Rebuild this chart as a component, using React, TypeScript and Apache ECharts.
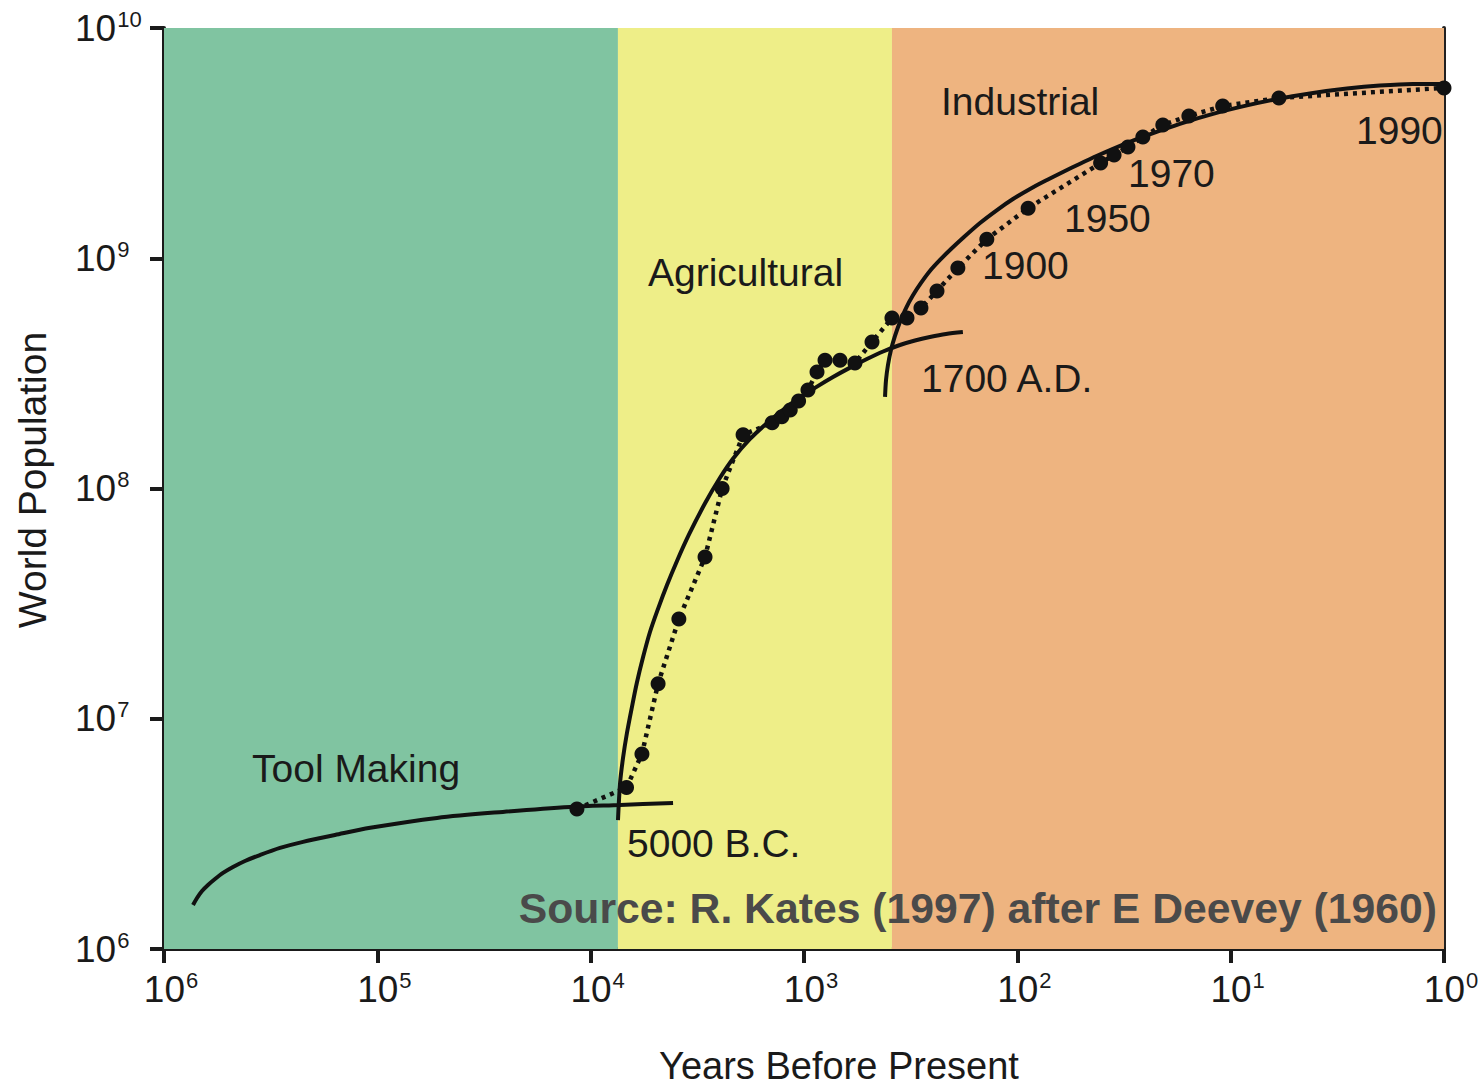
import { useEffect, useRef } from "react";
import * as echarts from "echarts";

const FONT = '"Liberation Sans", Arial, Helvetica, sans-serif';
const INK = "#1a1a1a";

// Era bands (years before present)
const eraBounds = [1e6, 7450, 387, 1];
const eraColors = ["#80C4A1", "#EEEE88", "#EEB480"];
const eraNames = ["Tool Making", "Agricultural", "Industrial"];

// Observed estimates (dotted line with dots)
const obsYears = [11600, 6790, 5750, 4830, 3860, 2910, 2420, 1930, 1410, 1270, 1160, 1060, 958, 869, 797, 678, 577, 480, 387, 329, 283, 238, 190, 139, 89, 40.7, 35.2, 30.3, 25.8, 20.8, 15.7, 10.9, 5.94, 1];
const obsPop = [4.06e6, 5.03e6, 7.03e6, 1.42e7, 2.71e7, 5.04e7, 1.0e8, 1.71e8, 1.93e8, 2.05e8, 2.19e8, 2.4e8, 2.68e8, 3.21e8, 3.61e8, 3.61e8, 3.51e8, 4.33e8, 5.5e8, 5.5e8, 6.08e8, 7.21e8, 9.07e8, 1.21e9, 1.65e9, 2.59e9, 2.81e9, 3.04e9, 3.36e9, 3.79e9, 4.15e9, 4.58e9, 4.97e9, 5.49e9];

// Fitted curves (solid)
const toolYears = [731000, 700200, 663500, 621900, 576700, 529000, 474900, 417300, 354800, 285900, 223000, 157900, 108000, 52500, 25800, 12500, 7280, 4110];
const toolPop = [1.553e6, 1.665e6, 1.786e6, 1.897e6, 2.014e6, 2.14e6, 2.27e6, 2.411e6, 2.56e6, 2.747e6, 2.92e6, 3.127e6, 3.36e6, 3.71e6, 3.94e6, 4.14e6, 4.22e6, 4.31e6];

const agriYears = [7447, 7280, 7053, 6760, 6400, 6070, 5683, 5272, 4834, 4387, 3938, 3459, 2910, 2476, 2153, 1791, 1490, 1241, 1044, 869, 731, 608, 507, 426, 355, 301.8, 257, 216, 180];
const agriPop = [3.63e6, 5.26e6, 6.75e6, 8.67e6, 1.13e7, 1.437e7, 1.849e7, 2.381e7, 3.002e7, 3.809e7, 4.845e7, 6.313e7, 8.627e7, 1.113e8, 1.347e8, 1.641e8, 1.925e8, 2.215e8, 2.485e8, 2.771e8, 3.05e8, 3.35e8, 3.65e8, 3.936e8, 4.2e8, 4.393e8, 4.55e8, 4.69e8, 4.78e8];

const indYears = [417, 412.6, 404, 391, 374.5, 355, 332.4, 308, 282.8, 257, 230.4, 204.6, 180, 149.6, 124.5, 104.8, 87.2, 72.6, 61.1, 50.8, 42.3, 35.6, 28.7, 24.7, 17.3, 12.1, 8.38, 5.88, 4.11, 2.85, 2.0, 1.4, 1];
const indPop = [2.5e8, 2.96e8, 3.44e8, 4.0e8, 4.6e8, 5.29e8, 6.08e8, 6.92e8, 7.81e8, 8.8e8, 9.83e8, 1.097e9, 1.225e9, 1.423e9, 1.62e9, 1.808e9, 2.0e9, 2.187e9, 2.37e9, 2.574e9, 2.786e9, 2.988e9, 3.243e9, 3.42e9, 3.836e9, 4.236e9, 4.611e9, 4.94e9, 5.224e9, 5.46e9, 5.627e9, 5.717e9, 5.71e9];

const markerLabels = ["5000 B.C.", "1700 A.D.", "1900", "1950", "1970", "1990"];
const sourceText = "Source: R. Kates (1997) after E Deevey (1960)";
const xTitle = "Years Before Present";
const yTitle = "World Population";

const zip = (xs: number[], ys: number[]) => xs.map((x, i) => [x, ys[i]]);

const supFmt = (v: number) => {
  const e = Math.round(Math.log10(v));
  return `{b|10}{s|${e}}`;
};

const richY = {
  b: { fontSize: 37, fontFamily: FONT, color: INK, lineHeight: 40 },
  s: { fontSize: 22, fontFamily: FONT, color: INK, lineHeight: 22, verticalAlign: "top", padding: [0, 0, 0, 1] },
};
const richX = {
  b: { fontSize: 37, fontFamily: FONT, color: INK, lineHeight: 40, padding: [0, 0, 0, 14] },
  s: { fontSize: 22, fontFamily: FONT, color: INK, lineHeight: 22, verticalAlign: "top", padding: [0, 0, 0, 1] },
};

export default function App() {
  const ref = useRef<HTMLDivElement>(null);
  useEffect(() => {
    if (!ref.current) return;
    const chart = echarts.init(ref.current, null, { renderer: "svg" });
    const fitLine = (data: number[][], name: string) => ({
      type: "line",
      name,
      data,
      showSymbol: false,
      symbol: "none",
      smooth: 0.3,
      clip: false,
      z: 3,
      lineStyle: { color: "#111", width: 4 },
      silent: true,
    });
    const textEl = (
      text: string,
      x: number,
      y: number,
      size = 39,
      align = "left",
      color = INK,
      weight = "normal",
      rotation = 0
    ) => ({
      type: "text",
      x,
      y,
      rotation,
      z: 100,
      style: {
        text,
        fill: color,
        font: `${weight} ${size}px ${FONT}`,
        textAlign: align,
        textVerticalAlign: "middle",
      },
    });
    chart.setOption({
      animation: false,
      backgroundColor: "#ffffff",
      grid: { left: 164, top: 28, width: 1280, height: 921, containLabel: false, outerBoundsMode: "none" },
      xAxis: {
        type: "log",
        logBase: 10,
        min: 1,
        max: 1e6,
        inverse: true,
        axisLine: { show: true, lineStyle: { color: INK, width: 4 } },
        axisTick: { show: true, length: 14, lineStyle: { color: INK, width: 4 } },
        axisLabel: { formatter: supFmt, rich: richX, margin: 20 },
        splitLine: { show: false },
        minorTick: { show: false },
      },
      yAxis: [
        {
          type: "log",
          logBase: 10,
          min: 1e6,
          max: 1e10,
          axisLine: { show: true, lineStyle: { color: INK, width: 4 } },
          axisTick: { show: true, length: 14, lineStyle: { color: INK, width: 4 } },
          axisLabel: { formatter: supFmt, rich: richY, margin: 89, align: "left" },
          splitLine: { show: false },
          minorTick: { show: false },
        },
        {
          type: "log",
          logBase: 10,
          min: 1e6,
          max: 1e10,
          position: "right",
          axisLine: { show: true, lineStyle: { color: "#222", width: 4 } },
          axisTick: { show: false },
          axisLabel: { show: false },
          splitLine: { show: false },
        },
      ],
      series: [
        {
          type: "line",
          name: "eras",
          data: [],
          silent: true,
          z: 0,
          markArea: {
            silent: true,
            data: eraColors.map((c, i) => [
              { xAxis: eraBounds[i], itemStyle: { color: c, opacity: 1 } },
              { xAxis: eraBounds[i + 1] },
            ]),
          },
        },
        fitLine(zip(toolYears, toolPop), eraNames[0]),
        fitLine(zip(agriYears, agriPop), eraNames[1]),
        fitLine(zip(indYears, indPop), eraNames[2]),
        {
          type: "line",
          name: "observed",
          data: zip(obsYears, obsPop),
          symbol: "circle",
          symbolSize: 15,
          showSymbol: true,
          clip: false,
          z: 4,
          itemStyle: { color: "#111" },
          lineStyle: { color: "#111", width: 4.5, type: [4, 5], cap: "butt" },
          silent: true,
        },
      ],
      graphic: [
        textEl(eraNames[0], 252, 768),
        textEl(eraNames[1], 648, 272),
        textEl(eraNames[2], 941, 101),
        textEl(markerLabels[0], 627, 843),
        textEl(markerLabels[1], 921, 378),
        textEl(markerLabels[2], 982, 265),
        textEl(markerLabels[3], 1064, 218),
        textEl(markerLabels[4], 1128, 173),
        textEl(markerLabels[5], 1356, 130),
        textEl(sourceText, 1437, 908, 42.7, "right", "#4a4a4a", "bold"),
        textEl(xTitle, 839, 1066, 38, "center"),
        textEl(yTitle, 32, 480, 39, "center", INK, "normal", Math.PI / 2),
      ],
    });
    return () => chart.dispose();
  }, []);
  return (
    <div
      ref={ref}
      style={{ position: "fixed", left: 0, top: 0, width: 1478, height: 1087 }}
    />
  );
}
